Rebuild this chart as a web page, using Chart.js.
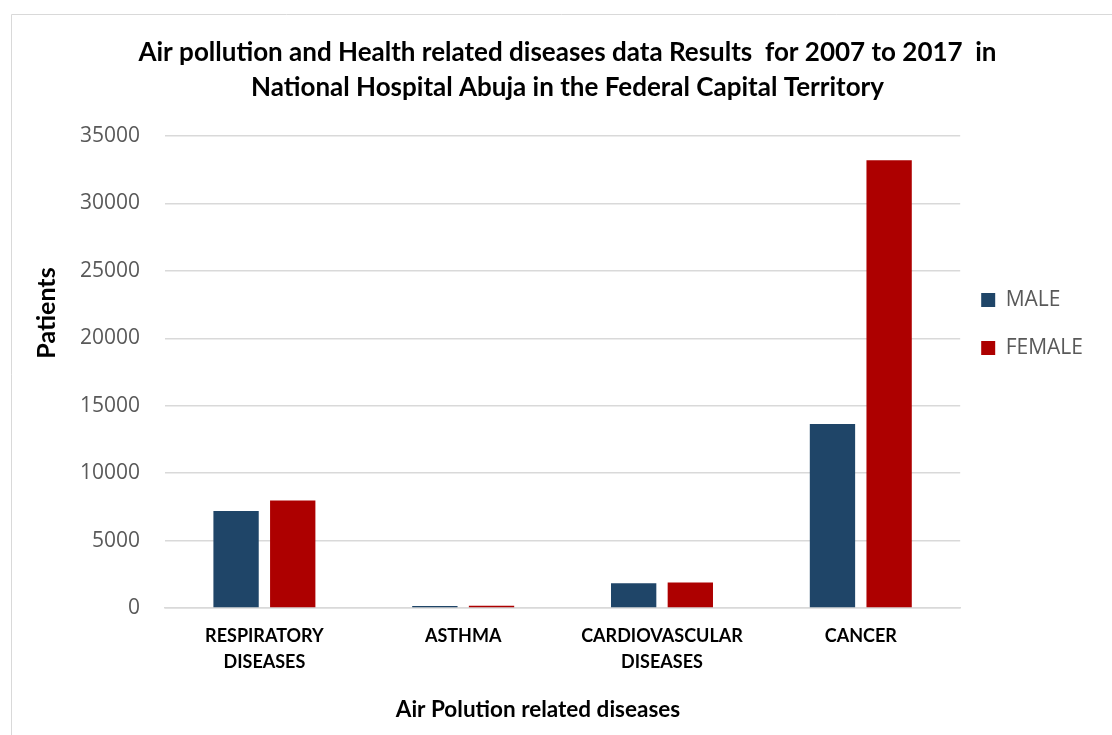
<!DOCTYPE html>
<html>
<head>
<meta charset="utf-8">
<title>Air pollution and Health related diseases</title>
<script src="https://cdn.jsdelivr.net/npm/chart.js@4.4.0/dist/chart.umd.min.js"></script>
<style>
  html, body { margin: 0; padding: 0; background: #ffffff; }
  #wrap { position: relative; width: 1112px; height: 735px; }
  canvas { display: block; }
</style>
</head>
<body>
<div id="wrap"><canvas id="chart" width="1112" height="735"></canvas></div>
<script>
// Disease categories (multi-line labels as drawn under the axis)
const categories = [
  ['RESPIRATORY', 'DISEASES'],
  'ASTHMA',
  ['CARDIOVASCULAR', 'DISEASES'],
  'CANCER'
];

// Patient counts 2007-2017 by sex
const maleValues = [7200, 150, 1830, 13650];
const femaleValues = [7970, 160, 1900, 33200];

const seriesNames = ['MALE', 'FEMALE'];

const titleLines = [
  'Air pollution and Health related diseases data Results  for 2007 to 2017  in',
  'National Hospital Abuja in the Federal Capital Territory'
];
const yAxisTitle = 'Patients';
const xAxisTitle = 'Air Polution related diseases';

const yMin = 0;
const yMax = 35000;
const yStep = 5000;

const GRID = '#d9d9d9';
const TICK_GREY = '#595959';
const BOLD_FONT = 'Lato, "Open Sans", sans-serif';
const TEXT_FONT = '"Open Sans", Lato, sans-serif';

// Thin frame around the chart area of the page
const framePlugin = {
  id: 'frame',
  beforeDraw(chart) {
    const ctx = chart.ctx;
    ctx.save();
    ctx.strokeStyle = GRID;
    ctx.lineWidth = 1;
    ctx.beginPath();
    ctx.moveTo(11.5, chart.height);
    ctx.lineTo(11.5, 14.5);
    ctx.lineTo(chart.width, 14.5);
    ctx.stroke();
    ctx.restore();
  }
};

// Fine placement of the legend and the chart title
const blockNudge = {
  id: 'blockNudge',
  afterLayout(chart) {
    const lg = chart.legend;
    if (lg) {
      lg.left -= 6;
      lg.right -= 6;
    }
    const tb = chart.titleBlock;
    if (tb) {
      tb.left += 7;
      tb.right += 7;
    }
  }
};

// Axis titles, centred on the whole chart frame rather than the plot
const axisTitles = {
  id: 'axisTitles',
  afterDraw(chart) {
    const ctx = chart.ctx;
    ctx.save();
    ctx.fillStyle = '#000000';
    ctx.textAlign = 'center';
    ctx.textBaseline = 'middle';
    ctx.font = 'bold 22.5px ' + BOLD_FONT;
    ctx.fillText(xAxisTitle, 538, 710);
    ctx.translate(47, 313);
    ctx.rotate(-Math.PI / 2);
    ctx.font = 'bold 25px ' + BOLD_FONT;
    ctx.fillText(yAxisTitle, 0, 0);
    ctx.restore();
  }
};

new Chart(document.getElementById('chart'), {
  type: 'bar',
  data: {
    labels: categories,
    datasets: [
      {
        label: seriesNames[0],
        data: maleValues,
        backgroundColor: '#1f4568',
        borderWidth: 0
      },
      {
        label: seriesNames[1],
        data: femaleValues,
        backgroundColor: '#ad0000',
        borderWidth: 0
      }
    ]
  },
  options: {
    responsive: false,
    maintainAspectRatio: false,
    devicePixelRatio: 1,
    animation: false,
    categoryPercentage: 0.57,
    barPercentage: 0.8,
    layout: {
      padding: { left: 22, right: 13, top: 17, bottom: 12 }
    },
    plugins: {
      title: {
        display: true,
        text: titleLines,
        color: '#000000',
        font: { family: BOLD_FONT, size: 26, weight: 'bold', lineHeight: 1.346 },
        padding: { top: 18.5, bottom: 30.5 }
      },
      legend: {
        position: 'right',
        fullSize: false,
        align: 'start',
        title: {
          display: true,
          text: ' ',
          font: { size: 10, lineHeight: 1 },
          padding: { top: 116.5, bottom: 0 }
        },
        labels: {
          boxWidth: 14,
          boxHeight: 14,
          padding: 27,
          color: TICK_GREY,
          font: { family: TEXT_FONT, size: 21 }
        }
      },
      tooltip: { enabled: false }
    },
    scales: {
      x: {
        grid: { display: false, drawTicks: false },
        border: { display: true, color: GRID, width: 1.5 },
        ticks: {
          color: '#000000',
          padding: 15,
          maxRotation: 0,
          autoSkip: false,
          font: { family: BOLD_FONT, size: 18, weight: 'bold', lineHeight: 1.444 }
        },
        afterFit(scale) {
          scale.paddingLeft = 0;
          scale.paddingRight = 0;
          scale.height = 115;
        }
      },
      y: {
        min: yMin,
        max: yMax,
        grid: { color: GRID, lineWidth: 1.5, drawTicks: false },
        border: { display: false },
        ticks: {
          stepSize: yStep,
          color: TICK_GREY,
          padding: 25,
          font: { family: TEXT_FONT, size: 21 },
          callback: (v) => String(v)
        },
        afterFit(scale) {
          scale.width = 143;
        }
      }
    }
  },
  plugins: [framePlugin, blockNudge, axisTitles]
});
</script>
</body>
</html>
